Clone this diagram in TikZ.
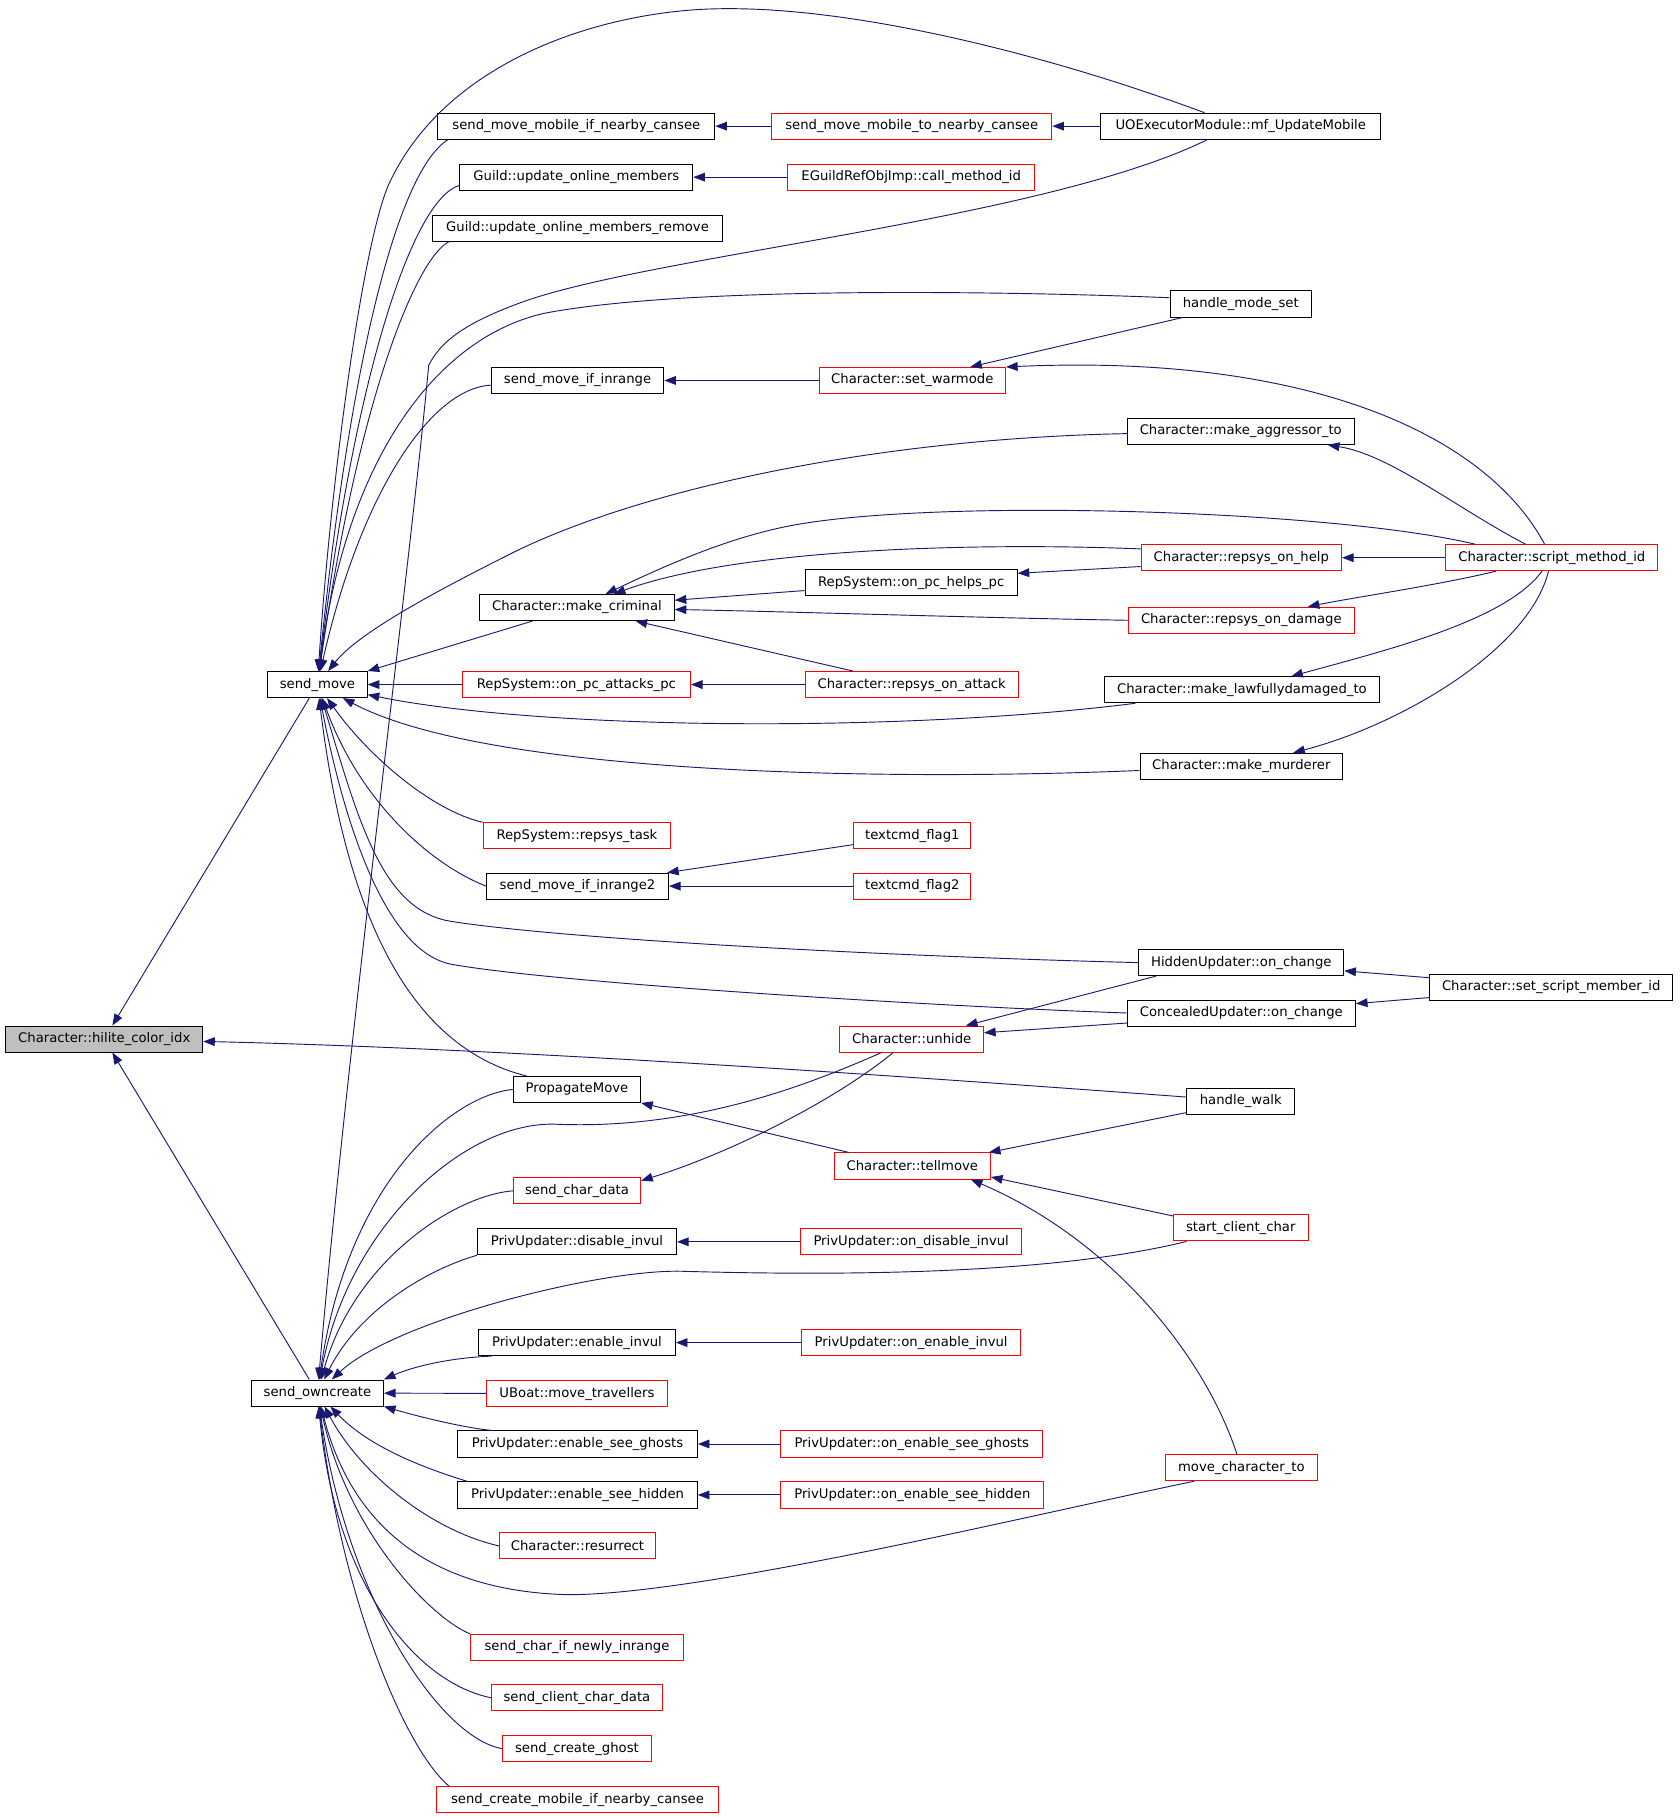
\documentclass[tikz,border=0pt]{standalone}
\usepackage{fontspec}
\newfontfamily\dxfont{DejaVu Sans}
\usetikzlibrary{arrows.meta}
\definecolor{edgeblue}{HTML}{191970}
\definecolor{hilitegray}{HTML}{BFBFBF}

\begin{document}
\begin{tikzpicture}[x=1pt, y=-1pt,
		fn/.style={draw=black, line width=0.8pt, rectangle, minimum height=22.5pt, inner sep=0pt, fill=white, font=\dxfont\fontsize{11.4}{13}\selectfont},
		fnred/.style={fn, draw=red},
		call/.style={draw=edgeblue, line width=0.8pt, -{Triangle[length=10pt,width=7.5pt]}}]
		\fill[white] (0,0) rectangle (1450,1568);

		\node[fn, fill=hilitegray, minimum width=170] (hilite) at (90,896.5) {Character::hilite\_color\_idx};
		\node[fn, minimum width=86] (sendMove) at (274,590.5) {send\_move};
		\node[fn, minimum width=114] (sendOwn) at (274,1202) {send\_owncreate};

		\node[fn, minimum width=239] (smmifnc) at (497.5,108.5) {send\_move\_mobile\_if\_nearby\_cansee};
		\node[fn, minimum width=201] (guildUOM) at (497.5,152.5) {Guild::update\_online\_members};
		\node[fn, minimum width=251] (guildUOMR) at (498.5,196.5) {Guild::update\_online\_members\_remove};
		\node[fn, minimum width=149] (smIfInrange) at (498.5,328) {send\_move\_if\_inrange};
		\node[fn, minimum width=168] (makeCriminal) at (498,524) {Character::make\_criminal};
		\node[fnred, minimum width=197] (onPcAttacks) at (497.5,590.5) {RepSystem::on\_pc\_attacks\_pc};
		\node[fnred, minimum width=162] (repsysTask) at (498,721) {RepSystem::repsys\_task};
		\node[fn, minimum width=157] (smIfInrange2) at (498.5,764.5) {send\_move\_if\_inrange2};
		\node[fn, minimum width=110] (propagateMove) at (498,940) {PropagateMove};
		\node[fnred, minimum width=110] (sendCharData) at (498,1027.5) {send\_char\_data};
		\node[fn, minimum width=172] (disableInvul) at (498,1071.5) {PrivUpdater::disable\_invul};
		\node[fn, minimum width=170] (enableInvul) at (498,1158.5) {PrivUpdater::enable\_invul};
		\node[fnred, minimum width=156] (uboatMove) at (498,1202.5) {UBoat::move\_travellers};
		\node[fn, minimum width=207] (seeGhosts) at (498.5,1246) {PrivUpdater::enable\_see\_ghosts};
		\node[fn, minimum width=207] (seeHidden) at (498.5,1290) {PrivUpdater::enable\_see\_hidden};
		\node[fnred, minimum width=135] (resurrect) at (498.5,1334) {Character::resurrect};
		\node[fnred, minimum width=184] (charIfNewly) at (498,1421.5) {send\_char\_if\_newly\_inrange};
		\node[fnred, minimum width=148] (clientCharData) at (498,1465) {send\_client\_char\_data};
		\node[fnred, minimum width=128] (createGhost) at (498,1509) {send\_create\_ghost};
		\node[fnred, minimum width=243] (createMobile) at (498.5,1553) {send\_create\_mobile\_if\_nearby\_cansee};

		\node[fnred, minimum width=242] (smmtnc) at (787,108.5) {send\_move\_mobile\_to\_nearby\_cansee};
		\node[fnred, minimum width=213] (eguildCall) at (786.5,152.5) {EGuildRefObjImp::call\_method\_id};
		\node[fnred, minimum width=161] (setWarmode) at (787.5,328) {Character::set\_warmode};
		\node[fn, minimum width=183] (onPcHelps) at (786.5,502.5) {RepSystem::on\_pc\_helps\_pc};
		\node[fnred, minimum width=184] (repsysOnAttack) at (787,590.5) {Character::repsys\_on\_attack};
		\node[fnred, minimum width=101] (flagOne) at (787.5,721) {textcmd\_flag1};
		\node[fnred, minimum width=101] (flagTwo) at (787.5,764.5) {textcmd\_flag2};
		\node[fnred, minimum width=124] (unhide) at (787,896.5) {Character::unhide};
		\node[fnred, minimum width=135] (tellmove) at (787.5,1006) {Character::tellmove};
		\node[fnred, minimum width=191] (onDisableInvul) at (786.5,1071.5) {PrivUpdater::on\_disable\_invul};
		\node[fnred, minimum width=189] (onEnableInvul) at (786.5,1158.5) {PrivUpdater::on\_enable\_invul};
		\node[fnred, minimum width=226] (onSeeGhosts) at (787,1246) {PrivUpdater::on\_enable\_see\_ghosts};
		\node[fnred, minimum width=227] (onSeeHidden) at (787.5,1290) {PrivUpdater::on\_enable\_see\_hidden};

		\node[fn, minimum width=242] (mfUpdate) at (1071,108.5) {UOExecutorModule::mf\_UpdateMobile};
		\node[fn, minimum width=122] (handleModeSet) at (1071,262) {handle\_mode\_set};
		\node[fn, minimum width=196] (makeAggressor) at (1071,372) {Character::make\_aggressor\_to};
		\node[fnred, minimum width=173] (repsysOnHelp) at (1071.5,481) {Character::repsys\_on\_help};
		\node[fnred, minimum width=195] (repsysOnDamage) at (1071.5,535) {Character::repsys\_on\_damage};
		\node[fn, minimum width=238] (makeLawfully) at (1072,595) {Character::make\_lawfullydamaged\_to};
		\node[fn, minimum width=175] (makeMurderer) at (1071.5,661) {Character::make\_murderer};
		\node[fn, minimum width=177] (hiddenChange) at (1071.5,830.5) {HiddenUpdater::on\_change};
		\node[fn, minimum width=197] (concealedChange) at (1071.5,874) {ConcealedUpdater::on\_change};
		\node[fn, minimum width=93] (handleWalk) at (1071,950) {handle\_walk};
		\node[fnred, minimum width=116] (startClientChar) at (1071,1059.5) {start\_client\_char};
		\node[fnred, minimum width=131] (moveCharTo) at (1071.5,1266.5) {move\_character\_to};

		\node[fnred, minimum width=183] (scriptMethodId) at (1339.5,481) {Character::script\_method\_id};
		\node[fn, minimum width=210] (setScriptMember) at (1339,852) {Character::set\_script\_member\_id};

		\draw[call] (sendMove) -- (hilite);
		\draw[call] (sendOwn) -- (hilite);
		\draw[call] (handleWalk) .. controls (800,930) and (450,905) .. (hilite);

		\draw[call] (mfUpdate) .. controls (900,45) and (720,0) .. (600,8) .. controls (500,15) and (380,60) .. (335,160) .. controls (312,215) and (285,420) .. (sendMove);
		\draw[call] (smmifnc.186) .. controls (340,150) and (300,330) .. (sendMove);
		\draw[call] (guildUOM.184) .. controls (355,172) and (305,330) .. (sendMove);
		\draw[call] (guildUOMR.186) .. controls (360,222) and (310,340) .. (sendMove);
		\draw[call] (handleModeSet.175) .. controls (900,252) and (600,245) .. (470,270) .. controls (380,290) and (300,390) .. (sendMove);
		\draw[call] (smIfInrange) .. controls (370,335) and (310,430) .. (sendMove);
		\draw[call] (makeAggressor) .. controls (760,378) and (560,420) .. (446,475) .. controls (380,508) and (310,545) .. (sendMove);
		\draw[call] (makeCriminal) -- (sendMove.north east);
		\draw[call] (onPcAttacks) -- (sendMove);
		\draw[call] (makeLawfully) .. controls (780,632) and (470,630) .. (sendMove);
		\draw[call] (makeMurderer) .. controls (760,674) and (420,668) .. (sendMove);
		\draw[call] (repsysTask.north west) .. controls (375,700) and (320,655) .. (sendMove);
		\draw[call] (smIfInrange2.west) .. controls (370,745) and (310,690) .. (sendMove);
		\draw[call] (hiddenChange.west) .. controls (800,826) and (500,812) .. (390,795) .. controls (330,786) and (310,710) .. (sendMove);
		\draw[call] (concealedChange.west) .. controls (800,868) and (480,848) .. (390,832) .. controls (330,821) and (295,700) .. (sendMove);
		\draw[call] (propagateMove.165) .. controls (340,900) and (295,760) .. (sendMove);

		\draw[call] (mfUpdate.202) .. controls (900,190) and (560,220) .. (449,261) .. controls (400,279) and (380,295) .. (370,315) .. controls (355,480) and (300,900) .. (sendOwn);
		\draw[call] (unhide.204) .. controls (700,935) and (600,975) .. (480,970) .. controls (400,967) and (300,1060) .. (sendOwn);
		\draw[call] (propagateMove.west) .. controls (390,945) and (300,1020) .. (sendOwn);
		\draw[call] (sendCharData.west) .. controls (390,1032) and (305,1090) .. (sendOwn);
		\draw[call] (disableInvul.south west) .. controls (370,1095) and (310,1130) .. (sendOwn);
		\draw[call] (startClientChar.194) .. controls (900,1102) and (700,1100) .. (591,1097) .. controls (520,1094) and (340,1140) .. (sendOwn);
		\draw[call] (enableInvul.189) .. controls (380,1172) and (350,1182) .. (sendOwn.north east);
		\draw[call] (uboatMove) -- (sendOwn);
		\draw[call] (seeGhosts.171) .. controls (400,1232) and (360,1222) .. (sendOwn.south east);
		\draw[call] (seeHidden.173) .. controls (370,1268) and (320,1250) .. (sendOwn);
		\draw[call] (resurrect.west) .. controls (370,1320) and (310,1270) .. (sendOwn);
		\draw[call] (moveCharTo.196) .. controls (900,1305) and (600,1378) .. (487,1376) .. controls (400,1373) and (310,1340) .. (sendOwn);
		\draw[call] (charIfNewly.north west) .. controls (370,1395) and (300,1320) .. (sendOwn);
		\draw[call] (clientCharData.west) .. controls (360,1452) and (290,1370) .. (sendOwn);
		\draw[call] (createGhost.west) .. controls (380,1500) and (300,1380) .. (sendOwn);
		\draw[call] (createMobile.174) .. controls (350,1510) and (295,1380) .. (sendOwn);

		\draw[call] (scriptMethodId.170) .. controls (1150,440) and (820,430) .. (690,452) .. controls (630,462) and (570,490) .. (makeCriminal);
		\draw[call] (repsysOnHelp.175) .. controls (850,468) and (640,472) .. (makeCriminal);
		\draw[call] (onPcHelps) -- (makeCriminal);
		\draw[call] (repsysOnDamage.west) .. controls (850,533) and (700,528) .. (makeCriminal);
		\draw[call] (repsysOnAttack) -- (makeCriminal);

		\draw[call] (scriptMethodId) -- (repsysOnHelp);
		\draw[call] (repsysOnHelp.185) -- (onPcHelps.5);
		\draw[call] (scriptMethodId) .. controls (1240,505) and (1170,515) .. (repsysOnDamage);
		\draw[call] (scriptMethodId) .. controls (1300,535) and (1200,560) .. (makeLawfully);
		\draw[call] (scriptMethodId) .. controls (1320,560) and (1210,625) .. (makeMurderer);
		\draw[call] (scriptMethodId) .. controls (1260,440) and (1200,392) .. (makeAggressor);
		\draw[call] (scriptMethodId) .. controls (1280,370) and (1120,305) .. (setWarmode.north east);
		\draw[call] (handleModeSet) -- (setWarmode);
		\draw[call] (setWarmode) -- (smIfInrange);
		\draw[call] (repsysOnAttack) -- (onPcAttacks);
		\draw[call] (smmtnc) -- (smmifnc);
		\draw[call] (mfUpdate) -- (smmtnc);
		\draw[call] (eguildCall) -- (guildUOM);
		\draw[call] (flagOne) -- (smIfInrange2);
		\draw[call] (flagTwo) -- (smIfInrange2);
		\draw[call] (setScriptMember) -- (hiddenChange);
		\draw[call] (setScriptMember) -- (concealedChange);
		\draw[call] (hiddenChange.189) -- (unhide.14);
		\draw[call] (concealedChange.185) -- (unhide.5);
		\draw[call] (handleWalk.192) -- (tellmove.10);
		\draw[call] (startClientChar.170) -- (tellmove.352);
		\draw[call] (moveCharTo) .. controls (1040,1170) and (960,1070) .. (tellmove.347);
		\draw[call] (tellmove.168) -- (propagateMove.south east);
		\draw[call] (unhide.216) .. controls (720,950) and (630,995) .. (sendCharData.9);
		\draw[call] (onDisableInvul) -- (disableInvul);
		\draw[call] (onEnableInvul) -- (enableInvul);
		\draw[call] (onSeeGhosts) -- (seeGhosts);
		\draw[call] (onSeeHidden) -- (seeHidden);
	\end{tikzpicture}
\end{document}
